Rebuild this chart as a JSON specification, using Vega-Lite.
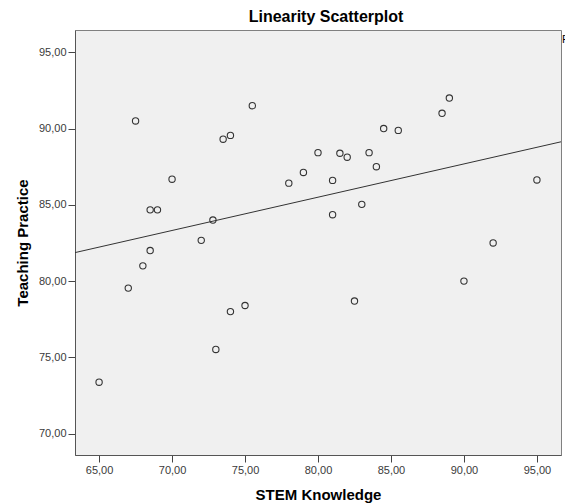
{
  "$schema": "https://vega.github.io/schema/vega-lite/v6.json",
  "width": 486,
  "height": 425,
  "autosize": {"type": "none"},
  "padding": {"left": 75, "top": 30, "right": 4, "bottom": 49},
  "background": "white",
  "title": {
    "text": "Linearity Scatterplot",
    "font": "Liberation Sans",
    "fontSize": 16,
    "fontWeight": "bold",
    "color": "#000000",
    "anchor": "middle",
    "offset": 5,
    "dx": 8
  },
  "config": {
    "view": {"fill": "#f0f0f0", "stroke": "#808080", "strokeWidth": 1},
    "axis": {
      "grid": false,
      "labelFont": "Liberation Sans",
      "labelFontSize": 11,
      "labelColor": "#3a3a3a",
      "titleFont": "Liberation Sans",
      "titleFontSize": 15,
      "titleFontWeight": "bold",
      "titleColor": "#000000",
      "domainColor": "#555555",
      "tickColor": "#444444",
      "tickSize": 7,
      "labelPadding": 2
    }
  },
  "data": {
    "values": [
      {"stem": 65.0, "tp": 73.37},
      {"stem": 73.0, "tp": 75.52},
      {"stem": 67.5, "tp": 90.5},
      {"stem": 75.5, "tp": 91.5},
      {"stem": 73.5, "tp": 89.3},
      {"stem": 74.0, "tp": 89.55},
      {"stem": 80.0, "tp": 88.42},
      {"stem": 81.5, "tp": 88.38},
      {"stem": 82.0, "tp": 88.12},
      {"stem": 83.5, "tp": 88.42},
      {"stem": 84.0, "tp": 87.5},
      {"stem": 84.5, "tp": 90.0},
      {"stem": 85.5, "tp": 89.88},
      {"stem": 88.5, "tp": 91.0},
      {"stem": 89.0, "tp": 92.0},
      {"stem": 79.0, "tp": 87.12},
      {"stem": 70.0, "tp": 86.68},
      {"stem": 78.0, "tp": 86.42},
      {"stem": 81.0, "tp": 86.6},
      {"stem": 95.0, "tp": 86.63},
      {"stem": 68.5, "tp": 84.67},
      {"stem": 69.0, "tp": 84.67},
      {"stem": 72.8, "tp": 84.0},
      {"stem": 83.0, "tp": 85.03},
      {"stem": 81.0, "tp": 84.35},
      {"stem": 72.0, "tp": 82.67},
      {"stem": 68.5, "tp": 82.0},
      {"stem": 68.0, "tp": 81.0},
      {"stem": 92.0, "tp": 82.5},
      {"stem": 67.0, "tp": 79.54},
      {"stem": 90.0, "tp": 80.0},
      {"stem": 82.5, "tp": 78.69},
      {"stem": 75.0, "tp": 78.4},
      {"stem": 74.0, "tp": 78.0}
    ]
  },
  "layer": [
    {
      "transform": [
        {"regression": "tp", "on": "stem", "extent": [63.35, 96.65]}
      ],
      "mark": {"type": "line", "color": "#333333", "strokeWidth": 1, "clip": true},
      "encoding": {
        "x": {"field": "stem", "type": "quantitative"},
        "y": {"field": "tp", "type": "quantitative"}
      }
    },
    {
      "mark": {"type": "point", "shape": "circle", "filled": false, "size": 40, "stroke": "#333333", "strokeWidth": 1.1, "opacity": 1},
      "encoding": {
        "x": {
          "field": "stem",
          "type": "quantitative",
          "title": "STEM Knowledge",
          "scale": {"domain": [63.35, 96.65], "nice": false, "zero": false},
          "axis": {
            "values": [65, 70, 75, 80, 85, 90, 95],
            "labelExpr": "replace(format(datum.value, '.2f'), '.', ',')",
            "titleY": 44,
            "titleBaseline": "alphabetic"
          }
        },
        "y": {
          "field": "tp",
          "type": "quantitative",
          "title": "Teaching Practice",
          "scale": {"domain": [68.6, 96.46], "nice": false, "zero": false},
          "axis": {
            "values": [70, 75, 80, 85, 90, 95],
            "labelExpr": "replace(format(datum.value, '.2f'), '.', ',')",
            "titleX": -48,
            "titleBaseline": "alphabetic"
          }
        }
      }
    },
    {
      "data": {"values": [{"stem": 96.65, "tp": 95.6, "label": "R² Linear = 0,1"}]},
      "mark": {"type": "text", "align": "left", "baseline": "alphabetic", "dx": 1, "font": "Liberation Sans", "fontSize": 11, "color": "#000000"},
      "encoding": {
        "x": {"field": "stem", "type": "quantitative"},
        "y": {"field": "tp", "type": "quantitative"},
        "text": {"field": "label"}
      }
    }
  ]
}
